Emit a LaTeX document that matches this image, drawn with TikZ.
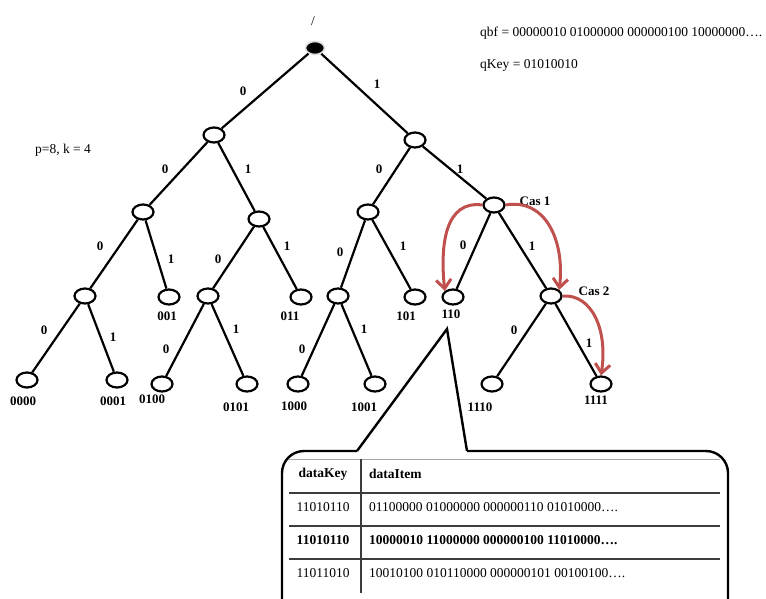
\documentclass[tikz,border=0pt]{standalone}
\usepackage{fontspec}
\setmainfont{Liberation Serif}
\usetikzlibrary{shapes.geometric,arrows.meta}
\definecolor{casred}{RGB}{192,80,77}
\definecolor{tabline}{RGB}{60,60,60}
\tikzset{
  tn/.style={ellipse,draw=black,line width=2.2pt,minimum width=21pt,minimum height=15pt,inner sep=0pt,fill=white},
  rootn/.style={ellipse,draw=gray!25,fill=black,line width=1.6pt,minimum width=19pt,minimum height=13pt,inner sep=0pt},
  edge/.style={line width=2.2pt,draw=black},
  lab/.style={font=\fontsize{13}{15}\selectfont\bfseries,inner sep=0pt},
  txt/.style={font=\fontsize{13.5}{16}\selectfont,inner sep=0pt},
  casarrow/.style={draw=casred,line width=3pt,-{Straight Barb[length=9pt,width=15pt]}},
  tabrule/.style={draw=tabline,line width=1.3pt},
}
\begin{document}
\begin{tikzpicture}[x=1pt,y=-1pt]
\useasboundingbox (0,0) rectangle (766,599);
\clip (0,0) rectangle (766,599);
\node[rootn] (r) at (315,48) {};
\node[tn] (a) at (214,135) {};
\node[tn] (b) at (415,140) {};
\node[tn] (c) at (143,212) {};
\node[tn] (d) at (259,219) {};
\node[tn] (e) at (368,212) {};
\node[tn] (f) at (494,205) {};
\node[tn] (g) at (85,296) {};
\node[tn] (h) at (169,297) {};
\node[tn] (i) at (208,296) {};
\node[tn] (j) at (301,297) {};
\node[tn] (k) at (338,296) {};
\node[tn] (l) at (415,297) {};
\node[tn] (m) at (453,297) {};
\node[tn] (n) at (551,296) {};
\node[tn] (o) at (27,380) {};
\node[tn] (p) at (117,380) {};
\node[tn] (q) at (162,384) {};
\node[tn] (s) at (247,384) {};
\node[tn] (t) at (298,384) {};
\node[tn] (u) at (375,384) {};
\node[tn] (v) at (492,384) {};
\node[tn] (w) at (601,384) {};

\foreach \u/\v in {r/a,r/b,a/c,a/d,b/e,b/f,c/g,c/h,d/i,d/j,e/k,e/l,f/m,f/n,g/o,g/p,i/q,i/s,k/t,k/u,n/v,n/w}
  \draw[edge] (\u) -- (\v);

% labels
\node[txt] (slash) at (313,21) {/};
\node[txt,anchor=west] (qbf) at (480,33) {qbf = 00000010 01000000 000000100 10000000….};
\node[txt,anchor=west] (qkey) at (480,65) {qKey = 01010010};
\node[txt] (pk) at (63,150) {p=8, k = 4};

\node[lab] (e1) at (243,91) {0};
\node[lab] (e2) at (377,84) {1};
\node[lab] (e3) at (165,169) {0};
\node[lab] (e4) at (248,169) {1};
\node[lab] (e5) at (379,169) {0};
\node[lab] (e6) at (460,169) {1};
\node[lab] (e7) at (100,246) {0};
\node[lab] (e8) at (171,259) {1};
\node[lab] (e9) at (218,259) {0};
\node[lab] (e10) at (287,246) {1};
\node[lab] (e11) at (340,252) {0};
\node[lab] (e12) at (403,246) {1};
\node[lab] (e13) at (463,245) {0};
\node[lab] (e14) at (532,246) {1};
\node[lab] (e15) at (44,330) {0};
\node[lab] (e16) at (113,337) {1};
\node[lab] (e17) at (166,349) {0};
\node[lab] (e18) at (236,329) {1};
\node[lab] (e19) at (302,349) {0};
\node[lab] (e20) at (364,329) {1};
\node[lab] (e21) at (514,330) {0};
\node[lab] (e22) at (589,343) {1};

\node[lab] (l001) at (167,316) {001};
\node[lab] (l011) at (290,316) {011};
\node[lab] (l101) at (406,316) {101};
\node[lab] (l110) at (451,314) {110};
\node[lab] (l0000) at (23,401) {0000};
\node[lab] (l0001) at (113,401) {0001};
\node[lab] (l0100) at (152,399) {0100};
\node[lab] (l0101) at (236,407) {0101};
\node[lab] (l1000) at (294,406) {1000};
\node[lab] (l1001) at (364,407) {1001};
\node[lab] (l1110) at (480,407) {1110};
\node[lab] (l1111) at (596,400) {1111};
\node[lab] (cas1) at (535,201) {Cas 1};
\node[lab] (cas2) at (594,291) {Cas 2};

% red arrows
\draw[casarrow] (f.west) .. controls (445,200) and (440,245) .. (m.north west);
\draw[casarrow] (f.east) .. controls (545,198) and (565,240) .. (n.north east);
\draw[casarrow] (n.east) .. controls (592,294) and (608,330) .. (w.north);

% callout
\coordinate (tip) at (447,329);
\coordinate (bl) at (357,451);
\coordinate (br) at (467,451);
\draw[line width=2.4pt,line join=miter] (bl) -- (tip) -- (br);
\draw[line width=2.4pt,rounded corners=22pt] (bl) -- (282,451) -- (282,640) -- (728,640) -- (728,451) -- (br);

% table
\draw[draw=gray!70,line width=0.8pt] (289,459) -- (720,459);
\draw[tabrule] (289,493) -- (720,493);
\draw[tabrule] (289,526) -- (720,526);
\draw[tabrule] (289,559) -- (720,559);
\draw[tabrule] (361,459) -- (361,593);

\node[txt,font=\fontsize{13.5}{16}\selectfont\bfseries] (hk) at (323,474) {dataKey};
\node[txt,font=\fontsize{13.5}{16}\selectfont\bfseries,anchor=west] (hi) at (369,474) {dataItem};
\node[txt] (k1) at (323,507) {11010110};
\node[txt,anchor=west] (i1) at (369,507) {01100000 01000000 000000110 01010000….};
\node[txt,font=\fontsize{13.5}{16}\selectfont\bfseries] (k2) at (323,540) {11010110};
\node[txt,font=\fontsize{13.5}{16}\selectfont\bfseries,anchor=west] (i2) at (369,540) {10000010 11000000 000000100 11010000….};
\node[txt] (k3) at (323,573) {11011010};
\node[txt,anchor=west] (i3) at (369,573) {10010100 010110000 000000101 00100100….};
\end{tikzpicture}
\end{document}
